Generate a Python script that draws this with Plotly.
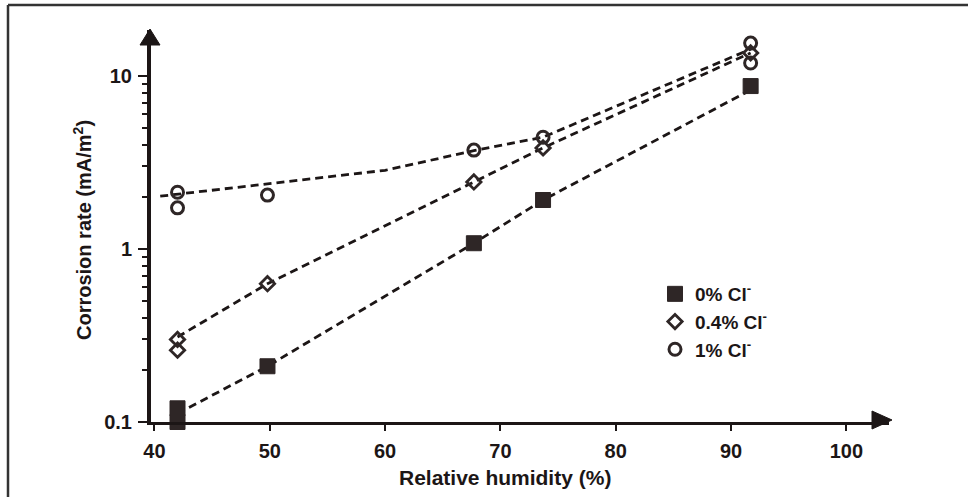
import plotly.graph_objects as go

# Relative humidity (%) and corrosion rate (mA/m2) for each chloride level
rh_0 = [42, 42, 49.8, 67.7, 73.7, 91.7]
rate_0 = [0.12, 0.10, 0.21, 1.08, 1.92, 8.75]

rh_04 = [42, 42, 49.8, 67.7, 73.7, 91.7]
rate_04 = [0.30, 0.26, 0.63, 2.44, 3.84, 13.6]

rh_1 = [42, 42, 49.8, 67.7, 73.7, 91.7, 91.7]
rate_1 = [2.13, 1.73, 2.05, 3.73, 4.43, 15.5, 11.9]

# dashed trend lines drawn through each series
trend_rh_0 = [42, 49.8, 67.7, 73.7, 91.7]
trend_rate_0 = [0.112, 0.21, 1.08, 1.92, 8.3]

trend_rh_04 = [42, 49.8, 67.7, 73.7, 91.7]
trend_rate_04 = [0.31, 0.63, 2.44, 3.84, 13.6]

trend_rh_1 = [40.5, 50, 60, 67.7, 73.7, 91.7]
trend_rate_1 = [2.02, 2.4, 2.85, 3.7, 4.43, 14.3]

series_names = ["0% Cl<sup>-</sup>", "0.4% Cl<sup>-</sup>", "1% Cl<sup>-</sup>"]

x_ticks = [40, 50, 60, 70, 80, 90, 100]
y_ticks = [0.1, 1, 10]
y_tick_text = ["0.1", "1", "10"]
y_minor = [0.2, 0.3, 0.4, 0.5, 0.6, 0.7, 0.8, 0.9, 2, 3, 4, 5, 6, 7, 8, 9]

INK = "#1c1616"
MARK = "#2e2626"
FONT = "Liberation Sans"

W, H = 968, 497
ML, MR, MT, MB = 151, 79, 30, 75
PW, PH = W - ML - MR, H - MT - MB


def px(xp):
    return (xp - ML) / PW


def py(yp):
    return (H - MB - yp) / PH


fig = go.Figure()

dash = "8px,5px"
for xs, ys in [(trend_rh_0, trend_rate_0), (trend_rh_04, trend_rate_04), (trend_rh_1, trend_rate_1)]:
    fig.add_trace(go.Scatter(x=xs, y=ys, mode="lines", showlegend=False, hoverinfo="skip",
                             line=dict(color=INK, width=2.8, dash=dash), cliponaxis=False))

fig.add_trace(go.Scatter(x=rh_0, y=rate_0, mode="markers", name=series_names[0], legendgroup="a",
                         marker=dict(symbol="square", size=15, color=MARK,
                                     line=dict(color=MARK, width=1)), cliponaxis=False))
fig.add_trace(go.Scatter(x=rh_04, y=rate_04, mode="markers", name=series_names[1], legendgroup="b",
                         marker=dict(symbol="diamond-open", size=11, color=MARK,
                                     line=dict(color=MARK, width=2.8)), cliponaxis=False))
fig.add_trace(go.Scatter(x=rh_1, y=rate_1, mode="markers", name=series_names[2], legendgroup="c",
                         marker=dict(symbol="circle-open", size=12, color=MARK,
                                     line=dict(color=MARK, width=3)), cliponaxis=False))

# frame, axis arrowheads
shapes = [
    dict(type="line", xref="paper", yref="paper", x0=px(8), x1=px(968), y0=py(5), y1=py(5),
         line=dict(color="#333333", width=2.5)),
    dict(type="line", xref="paper", yref="paper", x0=px(8), x1=px(8), y0=py(5), y1=py(497),
         line=dict(color="#333333", width=2.5)),
    dict(type="path", xref="paper", yref="paper", fillcolor=INK, line=dict(color=INK, width=1),
         path=f"M {px(150)} {py(29)} L {px(140)} {py(45)} L {px(160)} {py(45)} Z"),
    dict(type="path", xref="paper", yref="paper", fillcolor=INK, line=dict(color=INK, width=1),
         path=f"M {px(892)} {py(420)} L {px(872)} {py(411)} L {px(872)} {py(429)} Z"),
]

annotations = [
    dict(text="Relative humidity (%)", xref="paper", yref="paper", x=px(505), y=py(477),
         showarrow=False, font=dict(family=FONT, size=21, color=INK, weight="bold"),
         xanchor="center", yanchor="middle"),
    dict(text="Corrosion rate (mA/m<sup>2</sup>)", xref="paper", yref="paper", x=px(82), y=py(230),
         showarrow=False, textangle=-90, font=dict(family=FONT, size=20, color=INK, weight="bold"),
         xanchor="center", yanchor="middle"),
]

fig.update_layout(
    width=W, height=H,
    margin=dict(l=ML, r=MR, t=MT, b=MB),
    paper_bgcolor="white", plot_bgcolor="white",
    shapes=shapes, annotations=annotations,
    legend=dict(x=px(655), y=py(275), xanchor="left", yanchor="top",
                font=dict(family=FONT, size=19, color=INK, weight="bold"),
                bgcolor="rgba(0,0,0,0)", tracegroupgap=0, itemsizing="trace"),
    xaxis=dict(range=[39.7, 103.7], showgrid=False, zeroline=False,
               showline=True, linecolor=INK, linewidth=3,
               tickmode="array", tickvals=x_ticks, ticks="outside", ticklen=6, tickwidth=2,
               tickcolor=INK, ticklabelstandoff=3,
               tickfont=dict(family=FONT, size=20, color=INK, weight="bold")),
    yaxis=dict(type="log", range=[-1, 1.266], showgrid=False, zeroline=False,
               showline=True, linecolor=INK, linewidth=4,
               tickmode="array", tickvals=y_ticks, ticktext=y_tick_text,
               ticks="outside", ticklen=9, tickwidth=2, tickcolor=INK, ticklabelstandoff=2,
               tickfont=dict(family=FONT, size=20, color=INK, weight="bold"),
               minor=dict(tickmode="array", tickvals=y_minor, ticks="outside", ticklen=5,
                          tickwidth=2, tickcolor=INK, showgrid=False)),
)

fig.write_html("out.html")
